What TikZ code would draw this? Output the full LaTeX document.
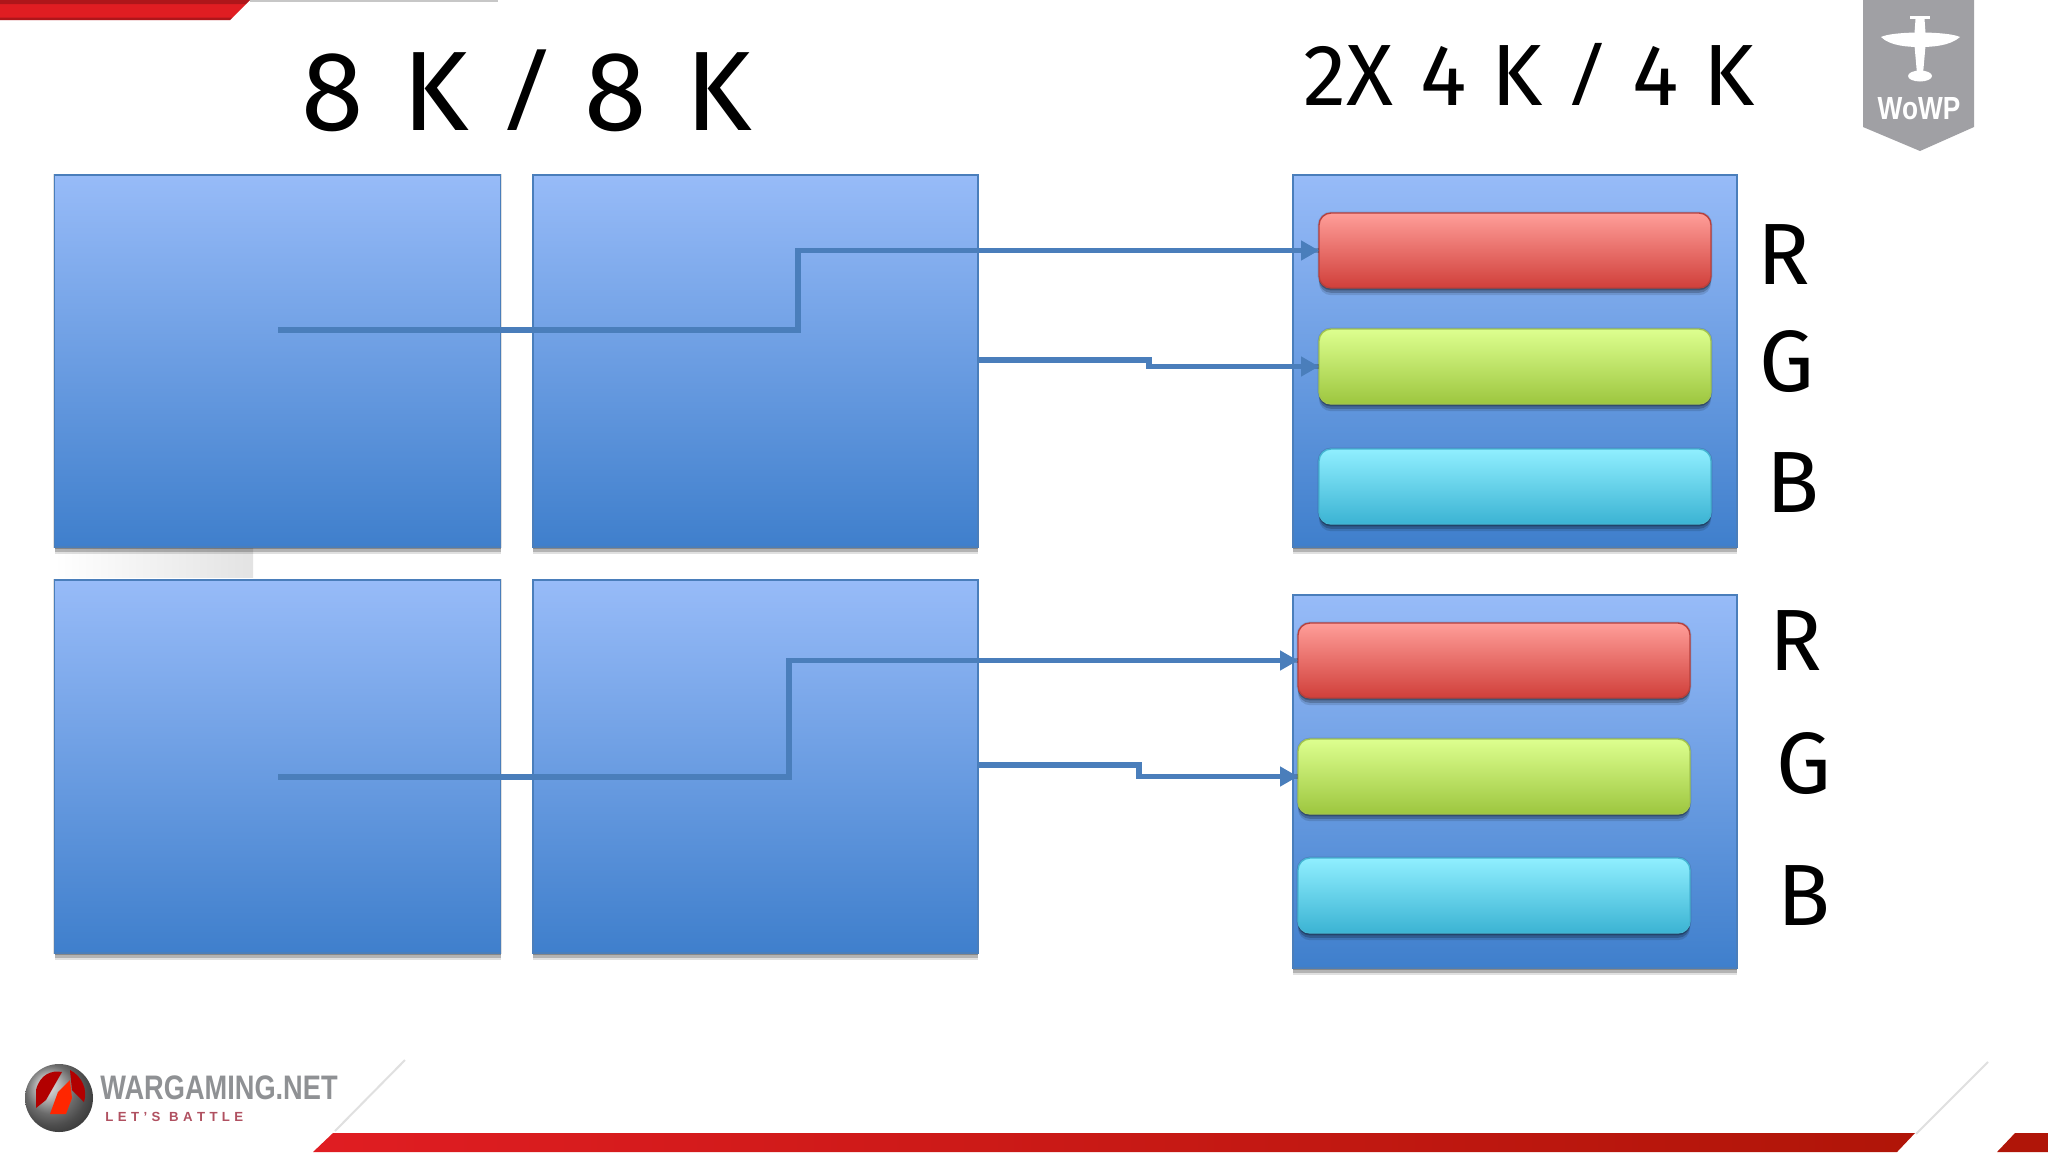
\documentclass[tikz,border=0pt]{standalone}
\usepackage{fontspec}
\usepackage{graphicx}
\setmainfont{Fira Sans}
\newfontfamily\slashfont{Open Sans}
\newfontfamily\logofont{Liberation Sans}[Ligatures=TeX]
\usetikzlibrary{shadows,arrows.meta,calc}
\definecolor{connc}{HTML}{4A7EBB}
\definecolor{boxedge}{HTML}{4A7EBB}
\tikzset{
  x=0.5pt,y=-0.5pt,
  softshadow/.style={
     preaction={draw=none,fill=black,opacity=.12,transform canvas={yshift=-3.6pt}},
     preaction={draw=none,fill=black,opacity=.20,transform canvas={yshift=-2.4pt}},
     preaction={draw=none,fill=black,opacity=.24,transform canvas={yshift=-1.2pt}},
     preaction={draw=black,line width=1.4pt,opacity=.12}},
  panel/.style={rectangle,draw=boxedge,line width=.7pt,anchor=north west,inner sep=0pt,outer sep=0pt,
    softshadow,top color=panelt,bottom color=panelb},
  barbase/.style={rectangle,rounded corners=6pt,line width=.7pt,anchor=north west,inner sep=0pt,outer sep=0pt,
    minimum width=392pt*0.5,minimum height=75pt*0.5,softshadow},
  redbar/.style={barbase,draw=redl,top color=redt,bottom color=redb},
  greenbar/.style={barbase,draw=greenl,top color=greent,bottom color=greenb},
  cyanbar/.style={barbase,draw=cyanl,top color=cyant,bottom color=cyanb},
  conn/.style={draw=connc,line width=2.8pt,line join=miter},
  connshade/.style={draw=black,opacity=.22,line width=2.8pt},
  tip/.style={-{Triangle[length=9pt,width=9.5pt]}},
  bigtitle/.style={font=\fontsize{56.5}{60}\selectfont,text=black,inner sep=0pt},
  subtitle/.style={font=\fontsize{43.5}{46}\selectfont,text=black,inner sep=0pt},
  chan/.style={font=\fontsize{43.5}{46}\selectfont,text=black,inner sep=0pt},
}
\definecolor{panelt}{HTML}{97BBF8}
\definecolor{panelb}{HTML}{3F7FCC}
\definecolor{redt}{HTML}{FF9E99}
\definecolor{redb}{HTML}{D03F3A}
\definecolor{redl}{HTML}{B8403C}
\definecolor{greent}{HTML}{DDFF8F}
\definecolor{greenb}{HTML}{9DC63F}
\definecolor{greenl}{HTML}{A3C44F}
\definecolor{cyant}{HTML}{90EFFF}
\definecolor{cyanb}{HTML}{3BB3D3}
\definecolor{cyanl}{HTML}{45B5D3}
\definecolor{badge}{HTML}{A0A0A4}
\definecolor{wgtext}{HTML}{8F9194}
\definecolor{wgred}{HTML}{B05060}
\definecolor{brightred}{HTML}{E01D22}
\definecolor{deepred}{HTML}{B01508}
\begin{document}
\begin{tikzpicture}
\useasboundingbox[fill=white] (0,0) rectangle (2048,1152);

% slide furniture
\path[fill=black!22] (250,0) rectangle (498,1.6);
\path[fill=brightred] (0,0) -- (250,0) -- (230,20) -- (0,20) -- cycle;
\path[fill=black,opacity=.22] (0,0) -- (250,0) -- (246,4) -- (0,4) -- cycle;
\path[fill=black,opacity=.22] (0,17.5) -- (232.5,17.5) -- (230,20) -- (0,20) -- cycle;
\path[left color=white,right color=black!11] (54,548) rectangle (253,577);
\draw[black!12,line width=1pt] (405,1060) -- (335,1131);
\draw[black!12,line width=1pt] (1988,1062) -- (1916,1134);
\path[left color=brightred,right color=deepred] (333,1133) -- (1915,1133) -- (1897,1152) -- (313,1152) -- cycle;
\path[fill=deepred] (2015,1133) -- (2048,1133) -- (2048,1152) -- (1997,1152) -- cycle;

% WoWP badge
\path[fill=badge] (1863,0) -- (1974,0) -- (1974,127) -- (1920,151) -- (1863,127) -- cycle;
\path[fill=white] (1881,37) .. controls (1893,31) and (1947,31) .. (1960,37)
   .. controls (1950,46) and (1932,47) .. (1920,47) .. controls (1908,47) and (1890,46) .. (1881,37) -- cycle;
\path[fill=white] (1915.5,19) -- (1924.5,19) -- (1926,40) -- (1923,74) -- (1917,74) -- (1914,40) -- cycle;
\path[fill=white] (1910,16) rectangle (1930,18.5);
\path[fill=white] (1920,76) ellipse [x radius=12,y radius=5.5];
\node[text=white,inner sep=0pt] (wowp) at (1919,109) {\logofont\bfseries\fontsize{16}{16}\selectfont\scalebox{.82}[1]{WoWP}};

% Wargaming logo
\shade[ball color=black!40] (59,1098) circle [radius=34];
\path[fill=red!70!black] (36,1090) .. controls (40,1074) and (52,1070) .. (62,1072) -- (46,1100) -- (36,1108) -- cycle;
\path[fill=red!70!black] (70,1070) .. controls (82,1076) and (88,1090) .. (84,1102) -- (72,1090) -- cycle;
\path[fill=orange!30!red] (58,1092) -- (70,1080) -- (72,1098) -- (66,1114) -- (50,1114) -- cycle;
\node[text=wgtext,inner sep=0pt,anchor=west] (wgname) at (100,1088) {\logofont\bfseries\fontsize{17}{17}\selectfont\scalebox{.8}[1]{WARGAMING.NET}};
\node[text=wgred,inner sep=0pt,anchor=west] (wgtag) at (105,1117) {\logofont\bfseries\fontsize{6.6}{7}\selectfont L\,\,E\,\,T\,\,'\,\,S\,\,\,\,B\,\,A\,\,T\,\,T\,\,L\,\,E};

% titles
\node[bigtitle] (t1) at (527,91) {8\hspace{.345em}K\hspace{.325em}{\slashfont /}\hspace{.325em}8\hspace{.345em}K};
\node[subtitle] (t2) at (1529,74) {2X\hspace{.31em}4\hspace{.29em}K\hspace{.33em}{\slashfont /}\hspace{.33em}4\hspace{.29em}K};

% left panels
\node[panel,minimum width=223pt,minimum height=186pt] (a1) at (54.5,175) {};
\node[panel,minimum width=222.5pt,minimum height=186pt] (b1) at (533,175) {};
\node[panel,minimum width=223pt,minimum height=186.5pt] (a2) at (54.5,580) {};
\node[panel,minimum width=222.5pt,minimum height=186.5pt] (b2) at (533,580) {};

% right panels
\node[panel,minimum width=222pt,minimum height=186pt] (c1) at (1293,175) {};
\node[panel,minimum width=222pt,minimum height=186.5pt] (c2) at (1293,595) {};

% bars
\node[redbar] (r1) at (1319,213) {};
\node[greenbar] (g1) at (1319,329) {};
\node[cyanbar] (y1) at (1319,449) {};
\node[redbar] (r2) at (1298,623) {};
\node[greenbar] (g2) at (1298,739) {};
\node[cyanbar] (y2) at (1298,858) {};

% channel labels
\node[chan] (lr1) at (1784,255) {R};
\node[chan] (lg1) at (1787,362) {G};
\node[chan] (lb1) at (1793,483) {B};
\node[chan] (lr2) at (1796,641) {R};
\node[chan] (lg2) at (1804,764) {G};
\node[chan] (lb2) at (1804,896) {B};

% connector anchors
\coordinate (s1) at (278,330);
\coordinate (j1) at (798,250);
\coordinate (s2) at (978,360);
\coordinate (j2) at (1149,366);
\coordinate (s3) at (278,777);
\coordinate (j3) at (789,661);
\coordinate (s4) at (978,765);
\coordinate (j4) at (1139,775);

% connector shadows
\begin{scope}[yshift=-2.4pt]
\draw[connshade] (s1) -- (s1 -| j1) -- (j1 |- r1.west) -- (r1.west);
\draw[connshade] (s2) -- (s2 -| j2) -- (j2 |- g1.west) -- (g1.west);
\draw[connshade] (s3) -- (s3 -| j3) -- (j3 |- r2.west) -- (r2.west);
\draw[connshade] (s4) -- (s4 -| j4) -- (j4 |- g2.west) -- (g2.west);
\end{scope}

% connectors
\draw[conn,tip] (s1) -- (s1 -| j1) -- (j1 |- r1.west) -- (r1.west);
\draw[conn,tip] (s2) -- (s2 -| j2) -- (j2 |- g1.west) -- (g1.west);
\draw[conn,tip] (s3) -- (s3 -| j3) -- (j3 |- r2.west) -- (r2.west);
\draw[conn,tip] (s4) -- (s4 -| j4) -- (j4 |- g2.west) -- (g2.west);
\end{tikzpicture}
\end{document}
